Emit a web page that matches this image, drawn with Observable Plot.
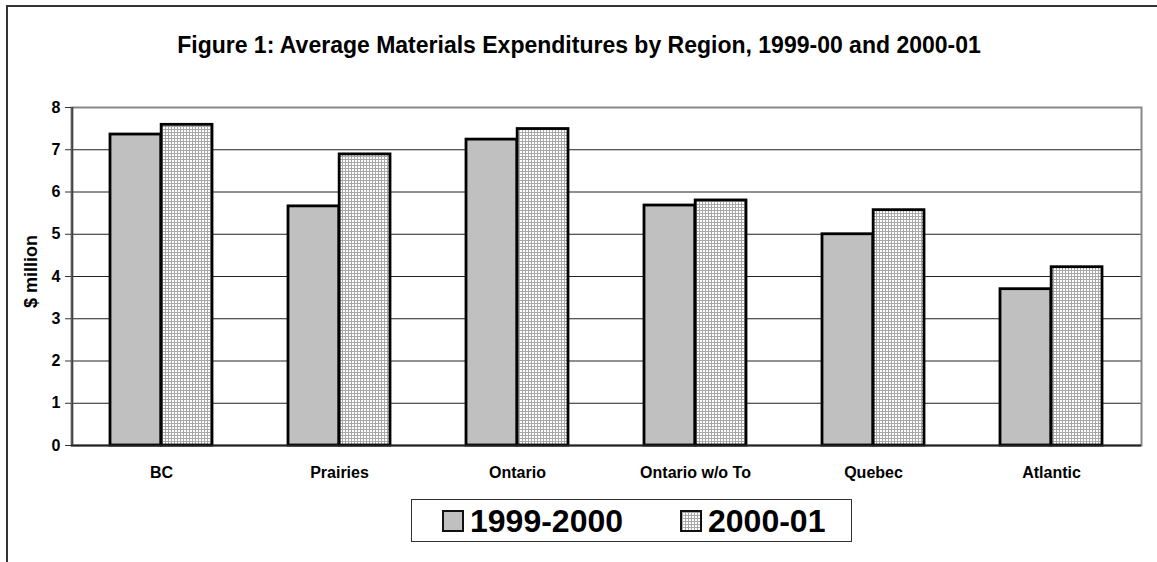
<!DOCTYPE html>
<html>
<head>
<meta charset="utf-8">
<script src="https://cdn.jsdelivr.net/npm/d3@7"></script>
<script src="https://cdn.jsdelivr.net/npm/@observablehq/plot@0.6"></script>
<style>
  html, body { margin: 0; padding: 0; background: #fff; }
  body { width: 1157px; height: 562px; position: relative; overflow: hidden; font-family: "Liberation Sans", Arial, sans-serif; }
  #frame { position: absolute; left: 6px; top: 5px; width: 1400px; height: 800px; border-top: 2px solid #333; border-left: 2px solid #333; }
  #title { position: absolute; left: 0; top: 34px; width: 1158px; text-align: center; font-weight: bold; font-size: 23px; line-height: 23px; color: #000; }
  #chart { position: absolute; left: 0; top: 0; }
  #legend { position: absolute; left: 411px; top: 499px; width: 439px; height: 41px; border: 1px solid #333; background: #fff; }
  .sw { position: absolute; top: 10px; width: 18px; height: 18px; border: 2px solid #111; }
  .lt { position: absolute; top: 3px; font-weight: bold; font-size: 32px; line-height: 36px; color: #000; white-space: nowrap; }
</style>
</head>
<body>
<div id="frame"></div>
<div id="title">Figure 1: Average Materials Expenditures by Region, 1999-00 and 2000-01</div>
<div id="chart"></div>
<div id="legend"></div>
<script>
const regions = ["BC", "Prairies", "Ontario", "Ontario w/o To", "Quebec", "Atlantic"];
const years = ["1999-2000", "2000-01"];
const values1999 = [7.36, 5.66, 7.24, 5.68, 5.00, 3.70];
const values2000 = [7.59, 6.89, 7.49, 5.80, 5.57, 4.22];
const yTicks = [0, 1, 2, 3, 4, 5, 6, 7, 8];

const rows1999 = regions.map((r, i) => ({region: r, year: years[0], value: values1999[i]}));
const rows2000 = regions.map((r, i) => ({region: r, year: years[1], value: values2000[i]}));

const W = 1157, H = 562;
const mL = 71, mR = 16, mT = 107, mB = 117;
const bw = (W - mL - mR) / regions.length;
const outer = 38;
const barW = (bw - 2 * outer) / 2;

const solidFill = "#c0c0c0";
const patFill = "url(#dots)";

const chart = Plot.plot({
  width: W,
  height: H,
  marginLeft: mL,
  marginRight: mR,
  marginTop: mT,
  marginBottom: mB,
  style: {fontFamily: "'Liberation Sans', Arial, sans-serif", fontWeight: "bold", fontSize: "16px", color: "#000", background: "transparent"},
  x: {domain: regions, padding: 0, label: null},
  y: {domain: [0, 8], label: null},
  marks: [
    Plot.ruleY(yTicks.filter(d => d > 0 && d < 8), {stroke: "#222", strokeWidth: 1}),
    Plot.frame({stroke: "#888", strokeWidth: 2}),
    Plot.barY(rows1999, {x: "region", y: "value", fill: solidFill, stroke: "#000", strokeWidth: 2.8,
      insetLeft: outer, insetRight: bw - outer - barW}),
    Plot.barY(rows2000, {x: "region", y: "value", fill: patFill, stroke: "#000", strokeWidth: 2.8,
      insetLeft: outer + barW, insetRight: outer}),
    Plot.ruleY([0], {stroke: "#222", strokeWidth: 2}),
    Plot.ruleX([regions[0]], {dx: -bw / 2, stroke: "#444", strokeWidth: 2}),
    Plot.axisY({ticks: yTicks, tickSize: 6, tickPadding: 5, fontSize: 16, fontWeight: "bold", label: null, stroke: "#333"}),
    Plot.axisX({tickSize: 0, tickPadding: 21, fontSize: 16, fontWeight: "bold", label: null}),
    Plot.text(["$ million"], {frameAnchor: "left", rotate: -90, dx: -40, dy: -5, textAnchor: "middle", fontSize: 18, fontWeight: "bold", fill: "#000"})
  ]
});

// pattern definition for the 2000-01 bars
const svg = d3.select(chart);
const defs = svg.insert("defs", ":first-child");
const pat = defs.append("pattern").attr("id", "dots").attr("patternUnits", "userSpaceOnUse")
  .attr("width", 3).attr("height", 3);
pat.append("rect").attr("width", 3).attr("height", 3).attr("fill", "#a8a8a8");
pat.append("rect").attr("x", 1).attr("y", 1).attr("width", 2).attr("height", 2).attr("fill", "#ffffff");

document.getElementById("chart").appendChild(chart);

// legend
const legend = document.getElementById("legend");
const swatchPattern = `<svg width="18" height="18" style="display:block"><defs><pattern id="dots2" patternUnits="userSpaceOnUse" width="3" height="3"><rect width="3" height="3" fill="#a8a8a8"/><rect x="1" y="1" width="2" height="2" fill="#fff"/></pattern></defs><rect width="18" height="18" fill="url(#dots2)"/></svg>`;
legend.innerHTML = `
  <div class="sw" style="left:30px;background:${solidFill}"></div>
  <div class="lt" style="left:58px">${years[0]}</div>
  <div class="sw" style="left:268px">${swatchPattern}</div>
  <div class="lt" style="left:296px">${years[1]}</div>
`;
</script>
</body>
</html>
